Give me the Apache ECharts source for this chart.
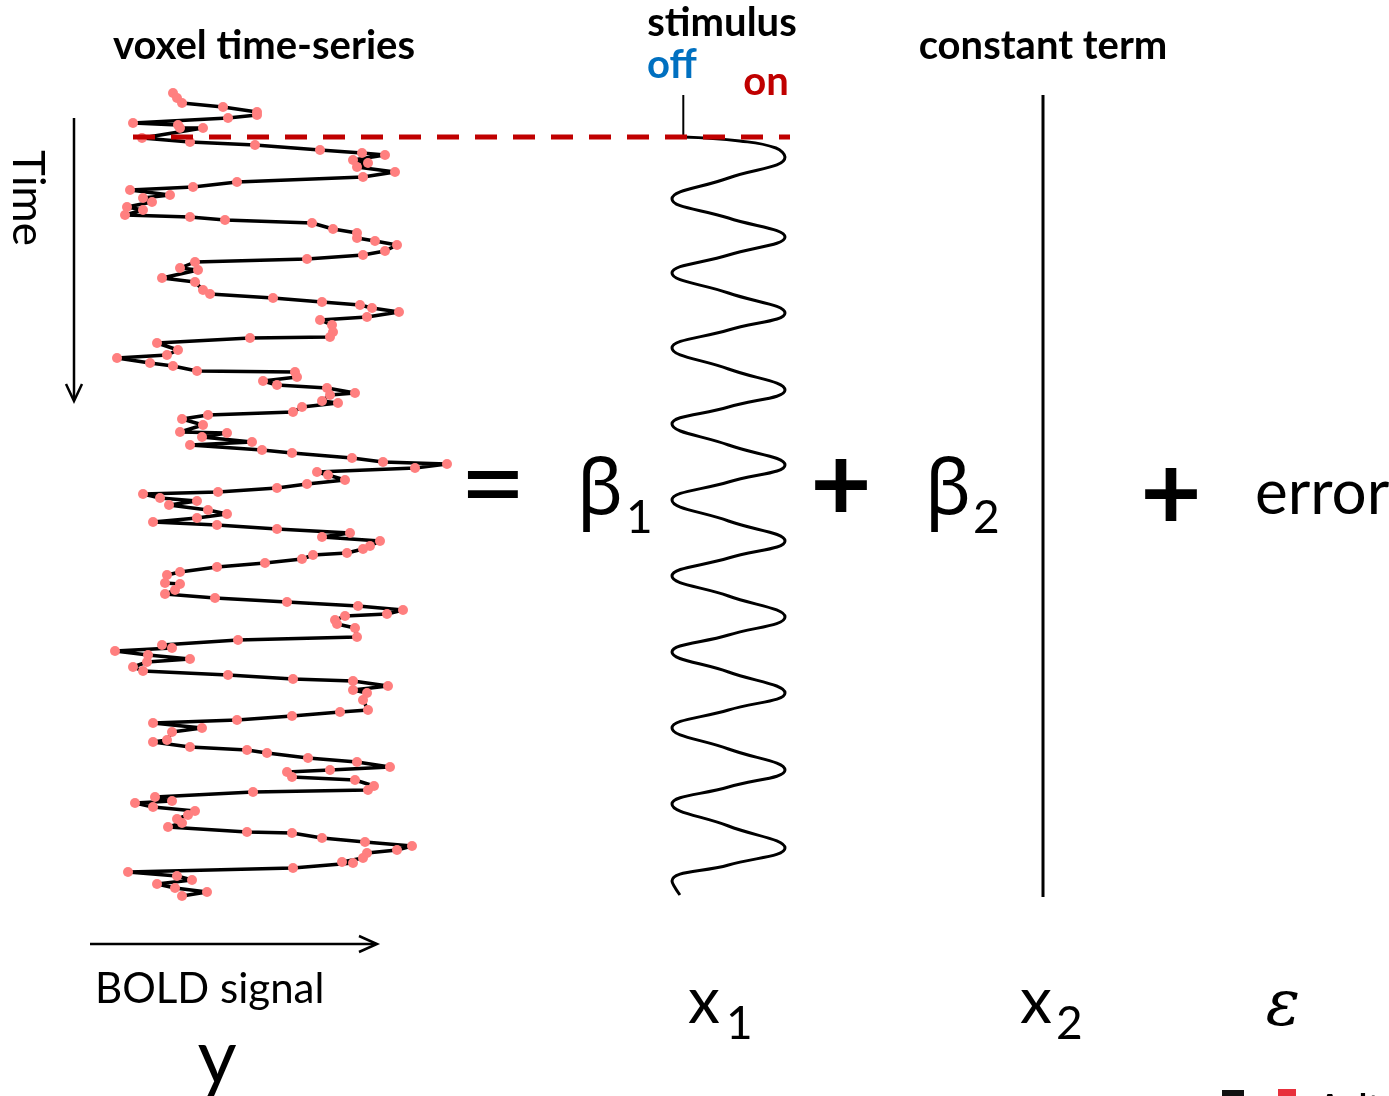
<!DOCTYPE html>
<html>
<head>
<meta charset="utf-8">
<script src="https://cdn.jsdelivr.net/npm/echarts@6/dist/echarts.min.js"></script>
<style>
  html, body { margin: 0; padding: 0; background: #ffffff; }
  #main { width: 1389px; height: 1096px; }
</style>
</head>
<body>
<div id="main"></div>
<script>
// Time axis shared by every panel (arbitrary time units, increasing downward)
const timeRange = [0, 820];
const stimulusOnset = 52;

// Voxel time-series: [BOLD signal (a.u.), time]
const voxelSeries = [
  [73,8],[77,13],[82,18],[123,22],[157,27],[157,30],[128,33],[33,38],[78,40],[80,43],
  [103,43],[42,53],[90,57],[155,60],[220,65],[262,68],[285,70],[253,75],[268,78],[257,82],
  [295,87],[263,92],[137,97],[93,102],[30,105],[70,110],[43,113],[52,117],[27,122],[43,125],
  [25,130],[90,132],[125,135],[212,138],[233,144],[257,148],[257,153],[275,156],[297,160],[285,166],
  [263,170],[207,174],[95,177],[80,183],[98,185],[62,193],[95,197],[103,205],[110,209],[173,213],
  [222,217],[260,220],[272,223],[299,227],[267,232],[220,235],[232,240],[233,247],[230,252],[150,253],
  [57,258],[78,265],[67,270],[17,273],[50,278],[73,281],[97,286],[195,287],[197,292],[163,296],
  [177,300],[227,303],[255,308],[230,310],[222,316],[238,318],[202,322],[193,327],[108,330],[82,334],
  [103,340],[80,347],[127,348],[102,352],[152,357],[90,360],[162,365],[192,368],[252,373],[283,377],
  [347,379],[315,383],[217,387],[228,390],[245,395],[207,399],[177,403],[118,407],[43,409],[60,413],
  [97,416],[69,420],[108,425],[127,429],[97,433],[53,437],[117,440],[177,444],[250,448],[222,452],
  [280,456],[270,461],[263,464],[247,468],[213,470],[202,474],[165,478],[117,482],[80,487],[67,490],
  [65,498],[80,499],[75,505],[65,509],[115,513],[187,517],[258,521],[303,525],[287,529],[245,531],
  [235,535],[237,539],[255,543],[257,552],[138,555],[62,560],[72,563],[15,566],[48,570],[90,574],
  [47,577],[33,582],[43,586],[128,590],[193,594],[253,596],[288,601],[253,605],[267,608],[263,615],
  [268,625],[240,627],[192,631],[137,635],[53,638],[102,643],[72,647],[67,655],[53,657],[90,662],
  [147,665],[167,668],[208,673],[257,677],[290,682],[230,685],[187,687],[192,692],[255,695],[274,701],
  [268,705],[153,707],[55,712],[72,716],[35,718],[53,722],[95,726],[88,730],[77,734],[82,738],
  [68,742],[147,747],[192,748],[222,753],[265,757],[312,761],[297,765],[267,768],[263,773],[242,777],
  [253,778],[193,783],[28,787],[77,791],[92,795],[57,799],[75,803],[107,807],[82,811]
];

// Stimulus regressor x1: [response (0 = off, 1 = on), time]
const regressorX1 = [
  [0.1,52],[0.6,56],[0.92,63],[1,72],[0.5,93],[0,114],[0.5,133],[1,152],[0.5,170],[0,188],
  [0.5,208],[1,228],[0.5,245],[0,263],[0.5,284],[1,305],[0.5,322],[0,339],[0.5,360],[1,380],
  [0.5,397],[0,415],[0.5,436],[1,456],[0.5,473],[0,491],[0.5,511],[1,532],[0.5,550],[0,567],
  [0.5,587],[1,608],[0.5,625],[0,643],[0.5,664],[1,685],[0.5,702],[0,719],[0.5,741],[1,763],
  [0.5,780],[0,796],[0.07,810]
];
// Onset marker above the regressor
const onsetTick = [[0.1,10],[0.1,52]];

// Constant regressor x2
const constantX2 = [[1,10],[1,812]];

const chart = echarts.init(document.getElementById('main'), null, { renderer: 'canvas' });

const TXT = 'Lato, "Noto Sans", sans-serif';
function label(text, x, y, size, opts) {
  opts = opts || {};
  const align = opts.align || 'center';
  const valign = opts.valign || 'middle';
  return {
    type: 'text', x: x, y: y, rotation: opts.rotation || 0, silent: true,
    style: {
      text: text,
      font: (opts.style || 'normal') + ' ' + (opts.weight || 'normal') + ' ' + size + 'px ' + (opts.family || TXT),
      fill: opts.color || '#000000',
      align: align, textAlign: align,
      verticalAlign: valign, textVerticalAlign: valign
    }
  };
}

const hiddenValueAxis = (min, max, grid, inverse) => ({
  type: 'value', gridIndex: grid, min: min, max: max, inverse: !!inverse, show: false
});

chart.setOption({
  animation: false,
  backgroundColor: '#ffffff',
  grid: [
    { left: 100, top: 85, width: 360, height: 820 },   // voxel time-series
    { left: 672, top: 85, width: 113, height: 820 },   // x1
    { left: 1000, top: 85, width: 86, height: 820 },   // x2
    { left: 133, top: 85, width: 657, height: 820 }    // stimulus onset line
  ],
  xAxis: [
    hiddenValueAxis(0, 360, 0),
    hiddenValueAxis(0, 1, 1),
    hiddenValueAxis(0, 2, 2),
    hiddenValueAxis(0, 1, 3)
  ],
  yAxis: [
    hiddenValueAxis(timeRange[0], timeRange[1], 0, true),
    hiddenValueAxis(timeRange[0], timeRange[1], 1, true),
    hiddenValueAxis(timeRange[0], timeRange[1], 2, true),
    hiddenValueAxis(timeRange[0], timeRange[1], 3, true)
  ],
  series: [
    {
      name: 'voxel time-series', type: 'line', xAxisIndex: 0, yAxisIndex: 0,
      data: voxelSeries, showAllSymbol: true, symbol: 'circle', symbolSize: 10,
      lineStyle: { color: '#000000', width: 3.5 },
      itemStyle: { color: '#ff7f7f' }, z: 2
    },
    {
      name: 'x1', type: 'line', xAxisIndex: 1, yAxisIndex: 1,
      data: regressorX1, smooth: 0.45, symbol: 'none',
      lineStyle: { color: '#000000', width: 3 }, z: 2
    },
    {
      name: 'onset tick', type: 'line', xAxisIndex: 1, yAxisIndex: 1,
      data: onsetTick, symbol: 'none',
      lineStyle: { color: '#000000', width: 2 }, z: 2
    },
    {
      name: 'x2', type: 'line', xAxisIndex: 2, yAxisIndex: 2,
      data: constantX2, symbol: 'none',
      lineStyle: { color: '#000000', width: 3 }, z: 2
    },
    {
      name: 'stimulus onset', type: 'line', xAxisIndex: 3, yAxisIndex: 3,
      data: [[0, stimulusOnset], [1, stimulusOnset]], symbol: 'none',
      lineStyle: { color: '#c00000', width: 5, type: [22, 16] }, z: 5
    }
  ],
  graphic: [
    label('voxel time-series', 264, 46, 40, { weight: 'bold' }),
    label('stimulus', 722, 23, 40, { weight: 'bold' }),
    label('off', 672, 65, 40, { weight: 'bold', color: '#0070c0' }),
    label('on', 766, 82, 40, { weight: 'bold', color: '#c00000' }),
    label('constant term', 1043, 46, 40, { weight: 'bold' }),
    label('Time', 27, 198, 44, { rotation: -Math.PI / 2 }),
    // time arrow
    { type: 'polyline', silent: true, shape: { points: [[74, 118], [74, 400]] }, style: { stroke: '#000', lineWidth: 2.5 } },
    { type: 'polyline', silent: true, shape: { points: [[66, 384], [74, 401], [82, 384]] }, style: { stroke: '#000', lineWidth: 2.5, fill: null } },
    // signal arrow
    { type: 'polyline', silent: true, shape: { points: [[90, 944], [376, 944]] }, style: { stroke: '#000', lineWidth: 2.5 } },
    { type: 'polyline', silent: true, shape: { points: [[359, 936], [377, 944], [359, 952]] }, style: { stroke: '#000', lineWidth: 2.5, fill: null } },
    label('BOLD signal', 95, 989, 42, { align: 'left' }),
    label('y', 217, 1058, 76),
    label('=', 493, 487, 116),
    label('β', 600, 492, 76, { family: '"Noto Sans", sans-serif' }),
    label('1', 626, 518, 46, { align: 'left' }),
    label('+', 841, 487, 106, { weight: 'bold' }),
    label('β', 948, 492, 76, { family: '"Noto Sans", sans-serif' }),
    label('2', 973, 518, 46, { align: 'left' }),
    label('+', 1171, 496, 106, { weight: 'bold' }),
    label('error', 1255, 494, 62, { align: 'left' }),
    label('x', 704, 1002, 64),
    label('1', 726, 1024, 46, { align: 'left' }),
    label('x', 1036, 1002, 64),
    label('2', 1056, 1024, 46, { align: 'left' }),
    label('ε', 1283, 1008, 64, { style: 'italic', family: '"DejaVu Serif", serif' }),
    // logo strip cut by the bottom edge
    { type: 'rect', silent: true, shape: { x: 1222, y: 1090, width: 22, height: 12 }, style: { fill: '#111' } },
    { type: 'rect', silent: true, shape: { x: 1278, y: 1089, width: 18, height: 12 }, style: { fill: '#e8303c' } },
    label('Aalto', 1318, 1108, 34, { align: 'left', weight: 'bold' })
  ]
});
</script>
</body>
</html>
